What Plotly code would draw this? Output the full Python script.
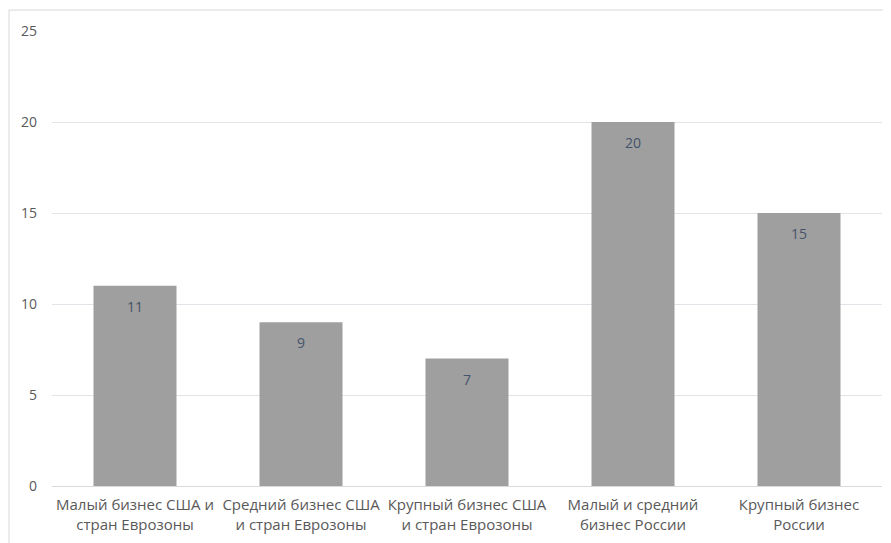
import plotly.graph_objects as go

categories = [
    "Малый бизнес США и<br>стран Еврозоны",
    "Средний бизнес США<br>и стран Еврозоны",
    "Крупный бизнес США<br>и стран Еврозоны",
    "Малый и средний<br>бизнес России",
    "Крупный бизнес<br>России",
]
values = [11, 9, 7, 20, 15]
y_ticks = [0, 5, 10, 15, 20, 25]

FONT = "Open Sans"
TICK_COLOR = "#595959"
LABEL_COLOR = "#44546A"

fig = go.Figure()
fig.add_trace(go.Bar(
    x=categories, y=values, width=0.5,
    marker=dict(color="#9F9F9F", line=dict(width=0)),
    hoverinfo="x+y",
))

for c, v in zip(categories, values):
    fig.add_annotation(x=c, y=v, text=str(v), showarrow=False,
                       yanchor="top", yshift=-9,
                       font=dict(family=FONT, size=14, color=LABEL_COLOR))

# outer chart border
fig.add_shape(type="rect", xref="paper", yref="paper",
              x0=-0.0518, x1=1.2, y0=-0.2, y1=1.046,
              line=dict(color="#D9D9D9", width=1), layer="below")

fig.update_layout(
    width=891, height=543,
    margin=dict(l=44, r=17, t=23, b=65),
    plot_bgcolor="white", paper_bgcolor="white",
    showlegend=False, bargap=0.5,
    font=dict(family=FONT, size=14, color=TICK_COLOR),
)
fig.update_xaxes(showgrid=False, showline=True, linecolor="#D9D9D9",
                 ticks="", ticklabelstandoff=5,
                 tickfont=dict(size=15, color=TICK_COLOR))
fig.update_yaxes(range=[0, 25], tickvals=y_ticks, showgrid=True,
                 gridcolor="#E1E4E8", zeroline=False, showline=False,
                 ticks="", ticklabelstandoff=14,
                 tickfont=dict(size=14, color=TICK_COLOR))

fig.write_html("out.html")
